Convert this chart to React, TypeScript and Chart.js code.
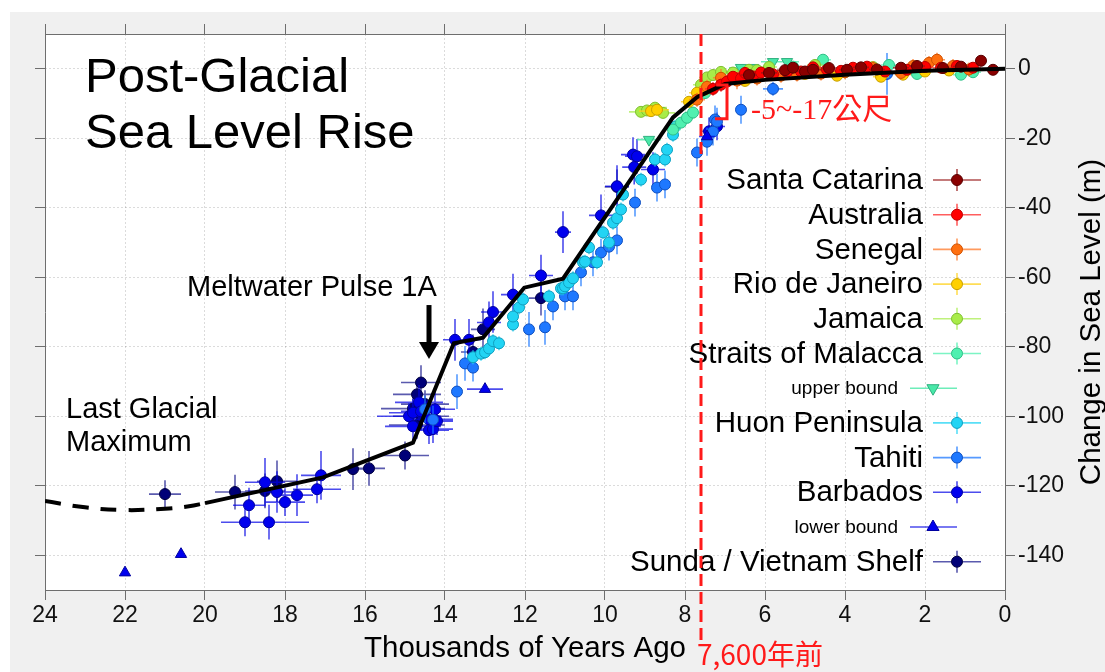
import React, { useEffect, useRef } from 'react';
import { Chart, registerables } from 'chart.js';

Chart.register(...registerables);

// [age (thousand years ago), sea level change (m), age error, level error]
type Pt = [number, number, number, number];

const xTicks = [24, 22, 20, 18, 16, 14, 12, 10, 8, 6, 4, 2, 0];
const yTicks = [0, -20, -40, -60, -80, -100, -120, -140];

const santaCatarina: Pt[] = [
  [6.4, -1.8, 0.2, 1.2], [5.9, -1.2, 0.2, 1.2], [5.5, -0.4, 0.2, 1.2], [5.3, 0.3, 0.2, 1.2],
  [5.0, -0.8, 0.2, 1.2], [4.8, -0.3, 0.2, 1.2], [4.4, 0.2, 0.2, 1.2], [3.95, -0.3, 0.2, 1.2],
  [3.6, 0.4, 0.2, 1.2], [3.2, -0.2, 0.2, 1.2], [2.6, 0.3, 0.2, 1.2], [2.2, 0.8, 0.2, 1.2],
  [1.55, 0.2, 0.2, 1.2], [1.1, 0.6, 0.2, 1.2], [0.6, 2.3, 0.15, 1.2], [0.3, -0.3, 0.15, 1.2],
];
const australia: Pt[] = [
  [7.3, -5.8, 0.2, 2], [7.1, -4.6, 0.2, 2], [6.95, -3.7, 0.2, 2], [6.8, -2.3, 0.2, 1.5],
  [6.6, -2.8, 0.2, 1.5], [6.5, -1.2, 0.2, 1.5], [6.3, -2.2, 0.2, 1.5], [6.1, -1.1, 0.2, 1.5],
  [5.8, -1.6, 0.2, 1.5], [5.45, -0.9, 0.2, 1.5], [5.1, -0.8, 0.2, 1.5], [4.8, 0.4, 0.2, 1.5],
  [4.45, -0.3, 0.2, 1.5], [4.1, -0.6, 0.2, 1.5], [3.8, 0.3, 0.2, 1.5], [3.45, 0.6, 0.2, 1.5],
  [3.0, -0.8, 0.2, 1.5], [2.45, -0.3, 0.2, 1.5], [2.0, 0.5, 0.2, 1.5], [1.6, 0.3, 0.2, 1.5],
  [1.2, 0.8, 0.2, 1.5], [0.8, 0.3, 0.2, 1.5],
];
const senegal: Pt[] = [
  [7.7, -8.9, 0.2, 2], [7.45, -5.2, 0.2, 2], [7.1, -2.6, 0.2, 2.5], [6.7, -3.4, 0.2, 2.5],
  [6.2, -2.8, 0.2, 2], [5.6, -2.0, 0.2, 2], [5.2, -1.7, 0.2, 2], [4.6, -1.4, 0.2, 2],
  [4.0, -1.0, 0.2, 2], [3.3, 0.2, 0.2, 2], [2.6, -1.2, 0.2, 2], [2.3, 0.8, 0.2, 2],
  [1.9, 1.7, 0.2, 2], [1.7, 2.6, 0.2, 2], [1.3, 0.8, 0.2, 2], [0.9, -0.2, 0.2, 2],
];
const rioDeJaneiro: Pt[] = [
  [8.85, -12.2, 0.3, 1.5], [8.7, -11.8, 0.3, 1.5], [7.9, -9.5, 0.2, 1.5], [7.7, -6.9, 0.2, 1.5],
  [7.5, -6.0, 0.2, 1.5], [6.5, -3.5, 0.2, 1.5], [5.0, -1.5, 0.2, 1.5], [4.2, -2.0, 0.2, 1.5],
  [3.1, -2.3, 0.2, 1.5], [2.55, -1.7, 0.2, 1.5], [2.0, -0.8, 0.2, 1.5], [1.4, -0.5, 0.2, 1.5],
];
const jamaica: Pt[] = [
  [9.1, -12.4, 0.3, 1.5], [8.95, -12.0, 0.3, 1.5], [8.75, -11.2, 0.3, 1.5], [8.55, -12.7, 0.3, 1.5],
  [7.6, -4.6, 0.2, 1.5], [7.45, -2.5, 0.2, 1.5], [7.3, -1.8, 0.2, 1.5], [7.1, -0.9, 0.2, 1.5],
  [6.8, -1.1, 0.2, 1.5], [6.4, -0.3, 0.2, 1.5], [6.2, -0.4, 0.2, 1.5], [5.9, 0.5, 0.2, 1.5],
  [4.75, 1.1, 0.2, 1.5], [3.8, -0.3, 0.2, 1.5], [3.3, 0.5, 0.2, 1.5],
];
const malacca: Pt[] = [
  [8.3, -17.5, 0.2, 1.5], [8.1, -15.5, 0.2, 1.5], [7.95, -14.1, 0.2, 1.5], [7.8, -12.6, 0.2, 1.5],
  [7.5, -7.0, 0.2, 1.5], [6.2, -0.5, 0.2, 1.5], [5.3, 0.6, 0.2, 1.5], [4.55, 2.6, 0.2, 1.5],
  [4.0, -1.0, 0.2, 1.5], [2.9, 1.1, 0.2, 1.5], [2.2, -1.5, 0.2, 1.5], [1.1, -1.7, 0.2, 1.5],
  [0.8, -1.0, 0.2, 1.5],
];
const malaccaUpper: Pt[] = [
  [8.9, -20.4, 0.3, 0], [6.6, 0.3, 0.3, 0], [6.3, 0.3, 0.3, 0], [5.8, 2.0, 0.3, 0], [5.45, 2.0, 0.3, 0],
];
const huon: Pt[] = [
  [13.3, -83, 0.15, 2], [13.1, -82, 0.15, 2], [13.0, -81.6, 0.15, 2], [12.9, -80.5, 0.15, 2],
  [12.8, -78.4, 0.15, 2], [12.65, -79, 0.15, 2], [12.3, -73.6, 0.15, 2], [12.3, -71.3, 0.15, 2],
  [12.15, -68.7, 0.15, 2], [12.05, -66.4, 0.15, 2], [11.4, -65.5, 0.15, 2], [11.1, -63.2, 0.15, 2],
  [11.05, -63.2, 0.15, 2], [11.0, -62.6, 0.15, 2], [10.9, -61.5, 0.15, 2], [10.8, -60.3, 0.15, 2],
  [10.55, -55.7, 0.15, 2], [10.5, -55.5, 0.15, 2], [10.4, -51.4, 0.15, 2], [10.2, -55.7, 0.15, 2],
  [10.05, -47.1, 0.15, 2], [9.9, -50, 0.15, 2], [9.8, -44.3, 0.15, 2], [9.7, -43, 0.15, 2],
  [9.6, -40.5, 0.15, 2], [9.55, -36.2, 0.15, 2], [9.1, -31.9, 0.15, 2], [8.75, -26.1, 0.15, 2],
  [8.5, -26.1, 0.15, 2], [8.45, -23.3, 0.15, 2], [8.3, -19, 0.15, 2], [8.25, -16.7, 0.15, 2],
];
const tahiti: Pt[] = [
  [14.5, -98, 0.1, 4], [14.3, -101, 0.1, 4], [13.7, -92.9, 0.1, 5], [13.5, -84.8, 0.1, 5],
  [13.3, -86, 0.1, 4], [11.9, -75, 0.1, 5], [11.5, -74.4, 0.1, 5], [11.3, -68.4, 0.1, 4],
  [11.0, -65.5, 0.1, 4], [10.8, -65.5, 0.1, 4], [10.6, -58.6, 0.1, 4], [10.3, -55.7, 0.1, 4],
  [10.1, -52.9, 0.1, 4], [9.9, -51.2, 0.1, 4], [9.7, -49.4, 0.1, 4], [9.25, -38.5, 0.1, 4],
  [8.7, -34.2, 0.1, 4], [8.5, -33.3, 0.1, 4], [7.7, -24.1, 0.1, 4], [7.45, -21, 0.1, 4],
  [7.3, -18.1, 0.1, 4], [7.25, -14.6, 0.1, 4], [7.2, -15.2, 0.1, 4], [6.6, -11.8, 0.1, 4],
  [5.8, -5.8, 0.25, 2], [2.95, -1.5, 0.05, 6],
];
const barbados: Pt[] = [
  [19.0, -130.5, 0.6, 4], [18.9, -125.6, 0.4, 5], [18.5, -119, 0.5, 7], [18.4, -130.5, 1.0, 5],
  [18.2, -121.8, 0.6, 6], [18.0, -124.7, 0.5, 4], [17.7, -122.7, 0.4, 6], [17.2, -121, 0.6, 4],
  [17.1, -117, 0.5, 7], [14.9, -100, 0.8, 4], [14.8, -102.9, 0.7, 4], [14.8, -99, 0.6, 4],
  [14.65, -96, 0.6, 5], [14.6, -98.6, 0.5, 4], [14.4, -100.9, 0.6, 4], [14.4, -104, 0.5, 4],
  [14.3, -103.7, 0.5, 4], [14.25, -98, 0.5, 5], [14.2, -101.4, 0.4, 4], [13.75, -78, 0.3, 6],
  [13.4, -78, 0.3, 6], [12.9, -73, 0.3, 6], [12.8, -70, 0.3, 6], [12.3, -65, 0.3, 6],
  [11.6, -59.5, 0.3, 6], [11.05, -47, 0.2, 6], [10.1, -42.2, 0.3, 6], [9.7, -33.8, 0.3, 6],
  [9.3, -24.7, 0.3, 5], [9.27, -28.3, 0.3, 5], [9.2, -25.2, 0.3, 5], [8.8, -29, 0.3, 5],
  [7.4, -18, 0.2, 4], [7.2, -16.6, 0.2, 4],
];
const barbadosLower: Pt[] = [
  [22.0, -145, 0, 0], [20.6, -139.7, 0, 0], [13.0, -92.2, 0.45, 0], [7.45, -19.5, 0.2, 0],
];
const sunda: Pt[] = [
  [21.0, -122.4, 0.4, 4], [19.25, -121.8, 0.5, 5], [18.5, -121.5, 0.5, 5], [18.2, -118.7, 0.5, 6],
  [16.3, -115.2, 0.3, 6], [15.9, -115, 0.4, 5], [15.0, -111.3, 0.6, 4], [14.8, -97.8, 0.8, 4],
  [14.7, -93.7, 0.6, 4], [14.7, -102.5, 0.7, 4], [14.6, -90.3, 0.5, 5], [14.6, -100, 0.7, 4],
  [14.5, -96.5, 0.6, 4], [13.3, -81.5, 0.3, 5], [13.05, -75, 0.3, 6], [11.6, -66, 0.3, 5],
  [9.7, -34, 0.3, 5],
];

const trendAges = [20, 17.05, 14.8, 13.78, 13.05, 12.02, 11.05, 8.3, 7.7, 7.3, 7.0, 6.0, 4.0, 2.0, 0];
const trendLevels = [-125, -117.6, -107.6, -79, -77.4, -63, -60.4, -14, -8.2, -6, -4.4, -3.2, -1.7, -0.6, 0];
const lgmAges = [24, 23, 22, 21, 20.4, 20];
const lgmLevels = [-124.4, -126.2, -127, -126.6, -125.9, -125];

const FONT = '"Liberation Sans", Arial, sans-serif';

function series(label: string, pts: Pt[], fill: string, edge: string, err: string, order: number, row: number, extra: any = {}) {
  return {
    type: 'scatter',
    label,
    data: pts.map((p) => ({ x: p[0], y: p[1], xe: p[2], ye: p[3] })),
    backgroundColor: fill,
    borderColor: edge,
    pointRadius: 5.5,
    pointBorderWidth: 1,
    errColor: err,
    legendRow: row,
    order,
    ...extra,
  };
}

const bgPlugin = {
  id: 'bg',
  beforeDraw(chart: any) {
    const { ctx, chartArea: a, width, height } = chart;
    ctx.save();
    ctx.fillStyle = '#ffffff';
    ctx.fillRect(0, 0, width, height);
    ctx.fillStyle = '#f0f0f0';
    ctx.fillRect(10, 12, width - 10, height - 12);
    ctx.fillStyle = '#ffffff';
    ctx.fillRect(a.left, a.top, a.right - a.left, a.bottom - a.top);
    ctx.restore();
  },
};

const errorPlugin = {
  id: 'errorBars',
  beforeDatasetDraw(chart: any, args: any) {
    const ds = chart.data.datasets[args.index];
    if (!ds.errColor) return;
    const { ctx, chartArea: a } = chart;
    const xs = chart.scales.x, ys = chart.scales.y;
    ctx.save();
    ctx.beginPath();
    ctx.rect(a.left, a.top, a.right - a.left, a.bottom - a.top);
    ctx.clip();
    ctx.strokeStyle = ds.errColor;
    ctx.lineWidth = 1.6;
    ctx.beginPath();
    ds.data.forEach((d: any) => {
      const px = xs.getPixelForValue(d.x), py = ys.getPixelForValue(d.y);
      if (d.xe) { ctx.moveTo(xs.getPixelForValue(d.x + d.xe), py); ctx.lineTo(xs.getPixelForValue(d.x - d.xe), py); }
      if (d.ye) { ctx.moveTo(px, ys.getPixelForValue(d.y + d.ye)); ctx.lineTo(px, ys.getPixelForValue(d.y - d.ye)); }
    });
    ctx.stroke();
    ctx.restore();
  },
};

function marker(ctx: any, x: number, y: number, ds: any) {
  ctx.fillStyle = ds.backgroundColor;
  ctx.strokeStyle = ds.borderColor;
  ctx.lineWidth = 1;
  ctx.beginPath();
  if (ds.pointStyle === 'triangle') {
    const r = 7;
    const dir = ds.pointRotation === 180 ? -1 : 1;
    ctx.moveTo(x, y - dir * r);
    ctx.lineTo(x + r * 0.87, y + dir * r * 0.5);
    ctx.lineTo(x - r * 0.87, y + dir * r * 0.5);
    ctx.closePath();
  } else {
    ctx.arc(x, y, 5.5, 0, Math.PI * 2);
  }
  ctx.fill();
  ctx.stroke();
}

const legendPlugin = {
  id: 'customLegend',
  afterDatasetsDraw(chart: any) {
    const ctx = chart.ctx;
    ctx.save();
    chart.data.datasets.forEach((ds: any) => {
      if (ds.legendRow === undefined || ds.legendRow < 0) return;
      const yy = 180 + ds.legendRow * 34.7;
      const small = !!ds.legendSmall;
      const mx = small ? 933 : 957;
      const x0 = small ? 910 : 933;
      const x1 = small ? 957 : 981;
      ctx.strokeStyle = ds.errColor;
      ctx.lineWidth = 1.6;
      ctx.beginPath();
      ctx.moveTo(x0, yy); ctx.lineTo(x1, yy);
      if (!small) { ctx.moveTo(mx, yy - 11); ctx.lineTo(mx, yy + 11); }
      ctx.stroke();
      marker(ctx, mx, yy, ds);
      ctx.fillStyle = '#000';
      ctx.textAlign = 'right';
      ctx.textBaseline = 'middle';
      ctx.font = small ? `19px ${FONT}` : `29.5px ${FONT}`;
      ctx.fillText(ds.label, small ? 898 : 923, yy + 1);
    });
    ctx.restore();
  },
};

const annotPlugin = {
  id: 'annot',
  afterDraw(chart: any) {
    const { ctx, chartArea: a } = chart;
    const xs = chart.scales.x, ys = chart.scales.y;
    ctx.save();
    ctx.fillStyle = '#000';
    ctx.textAlign = 'left';
    ctx.textBaseline = 'alphabetic';
    ctx.font = `49px ${FONT}`;
    ctx.fillText('Post-Glacial', 85, 92);
    ctx.fillText('Sea Level Rise', 85, 148);
    ctx.font = `29px ${FONT}`;
    ctx.fillText('Last Glacial', 66, 418);
    ctx.fillText('Maximum', 66, 451);
    ctx.fillText('Meltwater Pulse 1A', 187, 296);
    // arrow
    const ax = xs.getPixelForValue(14.4);
    const ay0 = ys.getPixelForValue(-68);
    const ay1 = ys.getPixelForValue(-83.5);
    ctx.strokeStyle = '#000';
    ctx.lineWidth = 5;
    ctx.beginPath();
    ctx.moveTo(ax, ay0); ctx.lineTo(ax, ay1 - 14);
    ctx.stroke();
    ctx.beginPath();
    ctx.moveTo(ax - 10, ay1 - 17); ctx.lineTo(ax + 10, ay1 - 17); ctx.lineTo(ax, ay1); ctx.closePath();
    ctx.fillStyle = '#000';
    ctx.fill();
    // axis titles
    ctx.font = `29.5px ${FONT}`;
    ctx.textAlign = 'center';
    ctx.fillText('Thousands of Years Ago', (a.left + a.right) / 2, 657);
    ctx.save();
    ctx.translate(1100, 322);
    ctx.rotate(-Math.PI / 2);
    ctx.fillText('Change in Sea Level (m)', 0, 0);
    ctx.restore();
    // red dashed line at 7,600 years
    const rx = xs.getPixelForValue(7.6);
    ctx.strokeStyle = '#ff1a1a';
    ctx.lineWidth = 3;
    ctx.setLineDash([12, 6]);
    ctx.beginPath();
    ctx.moveTo(rx, a.top); ctx.lineTo(rx, 646);
    ctx.stroke();
    ctx.setLineDash([]);
    // bracket
    ctx.lineWidth = 3;
    ctx.beginPath();
    ctx.moveTo(xs.getPixelForValue(7.22), ys.getPixelForValue(-4.7));
    ctx.lineTo(xs.getPixelForValue(6.95), ys.getPixelForValue(-4.7));
    ctx.lineTo(xs.getPixelForValue(6.95), ys.getPixelForValue(-14.4));
    ctx.lineTo(xs.getPixelForValue(7.25), ys.getPixelForValue(-14.4));
    ctx.stroke();
    ctx.fillStyle = '#ff1a1a';
    ctx.textAlign = 'left';
    ctx.font = `30px "Liberation Serif", "Noto Sans CJK TC", serif`;
    ctx.fillText('-5~-17公尺', 751, 119);
    ctx.font = `28px "Noto Sans CJK TC", "Liberation Sans", sans-serif`;
    ctx.fillText('7,600年前', 697, 665);
    ctx.restore();
  },
};

export default function App() {
  const ref = useRef<HTMLCanvasElement | null>(null);
  useEffect(() => {
    if (!ref.current) return;
    const axisColor = '#6e6e6e';
    const gridColor = 'rgba(0,0,0,0.14)';
    const xTickBuild = (s: any) => { s.ticks = xTicks.map((v) => ({ value: v })); };
    const yTickBuild = (s: any) => { s.ticks = yTicks.map((v) => ({ value: v })); };
    const tickFont = { family: FONT, size: 23 };
    const chart = new Chart(ref.current, {
      type: 'scatter',
      data: {
        datasets: [
          {
            type: 'line', label: 'trend', data: trendAges.map((a, i) => ({ x: a, y: trendLevels[i] })),
            borderColor: '#000', borderWidth: 4, pointRadius: 0, tension: 0, order: 0, legendRow: -1,
          } as any,
          {
            type: 'line', label: 'lgm', data: lgmAges.map((a, i) => ({ x: a, y: lgmLevels[i] })),
            borderColor: '#000', borderWidth: 4, pointRadius: 0, tension: 0.4, borderDash: [16, 12], order: 0, legendRow: -1,
          } as any,
          series('Santa Catarina', santaCatarina, '#8a0000', '#5a0000', 'rgba(150,20,20,0.75)', 2, 0),
          series('Australia', australia, '#ff0000', '#c00000', 'rgba(255,40,40,0.75)', 3, 1),
          series('Senegal', senegal, '#ff7010', '#d05000', 'rgba(255,120,40,0.75)', 4, 2),
          series('Rio de Janeiro', rioDeJaneiro, '#ffd000', '#c8a000', 'rgba(255,210,30,0.75)', 5, 3),
          series('Jamaica', jamaica, '#a8ec48', '#80c030', 'rgba(170,236,80,0.75)', 6, 4),
          series('upper bound', malaccaUpper, '#48e8a8', '#30b080', 'rgba(72,232,168,0.8)', 7, 6, { pointStyle: 'triangle', pointRotation: 180, pointRadius: 6.5, legendSmall: true }),
          series('Straits of Malacca', malacca, '#50f0b0', '#30c088', 'rgba(80,240,176,0.75)', 8, 5),
          series('Huon Peninsula', huon, '#22d4f4', '#10a0c0', 'rgba(34,212,244,0.75)', 9, 7),
          series('Tahiti', tahiti, '#1e78ff', '#1050c0', 'rgba(30,120,255,0.75)', 10, 8),
          series('Barbados', barbados, '#0000ee', '#0000a0', 'rgba(0,0,230,0.7)', 11, 9),
          series('lower bound', barbadosLower, '#0000ee', '#0000a0', 'rgba(0,0,230,0.7)', 1, 10, { pointStyle: 'triangle', pointRadius: 6.5, legendSmall: true }),
          series('Sunda / Vietnam Shelf', sunda, '#000078', '#000040', 'rgba(20,20,140,0.7)', 12, 11),
        ] as any,
      },
      options: {
        responsive: false,
        animation: false,
        events: [],
        layout: { padding: { left: 35, top: 24, right: 0, bottom: 0 } },
        plugins: { legend: { display: false }, tooltip: { enabled: false } },
        scales: {
          x: {
            type: 'linear', position: 'bottom', min: 0, max: 24, reverse: true,
            afterBuildTicks: xTickBuild,
            afterFit: (s: any) => { s.height = 82; },
            ticks: { font: tickFont, color: '#111', padding: 2, maxRotation: 0, autoSkip: false },
            grid: { color: gridColor, tickColor: axisColor, tickLength: 10, tickBorderDash: [], lineWidth: 1 },
            border: { color: axisColor, width: 1, dash: [2, 2] },
          },
          xTop: {
            type: 'linear', position: 'top', min: 0, max: 24, reverse: true,
            afterBuildTicks: xTickBuild,
            afterFit: (s: any) => { s.height = 10; },
            ticks: { display: false },
            grid: { drawOnChartArea: false, tickColor: axisColor, tickLength: 10 },
            border: { color: axisColor, width: 1 },
          },
          y: {
            type: 'linear', position: 'right', min: -150, max: 10,
            afterBuildTicks: yTickBuild,
            afterFit: (s: any) => { s.width = 100; },
            ticks: { font: tickFont, color: '#111', padding: 3 },
            grid: { color: gridColor, tickColor: axisColor, tickLength: 10, tickBorderDash: [], lineWidth: 1 },
            border: { color: axisColor, width: 1, dash: [2, 2] },
          },
          yLeft: {
            type: 'linear', position: 'left', min: -150, max: 10,
            afterBuildTicks: yTickBuild,
            afterFit: (s: any) => { s.width = 10; },
            ticks: { display: false },
            grid: { drawOnChartArea: false, tickColor: axisColor, tickLength: 10 },
            border: { color: axisColor, width: 1 },
          },
        } as any,
      },
      plugins: [bgPlugin, errorPlugin, legendPlugin, annotPlugin],
    } as any);
    return () => chart.destroy();
  }, []);
  return (
    <div style={{ position: 'fixed', left: 0, top: 0, width: 1105, height: 672 }}>
      <canvas ref={ref} width={1105} height={672} style={{ display: 'block' }} />
    </div>
  );
}
